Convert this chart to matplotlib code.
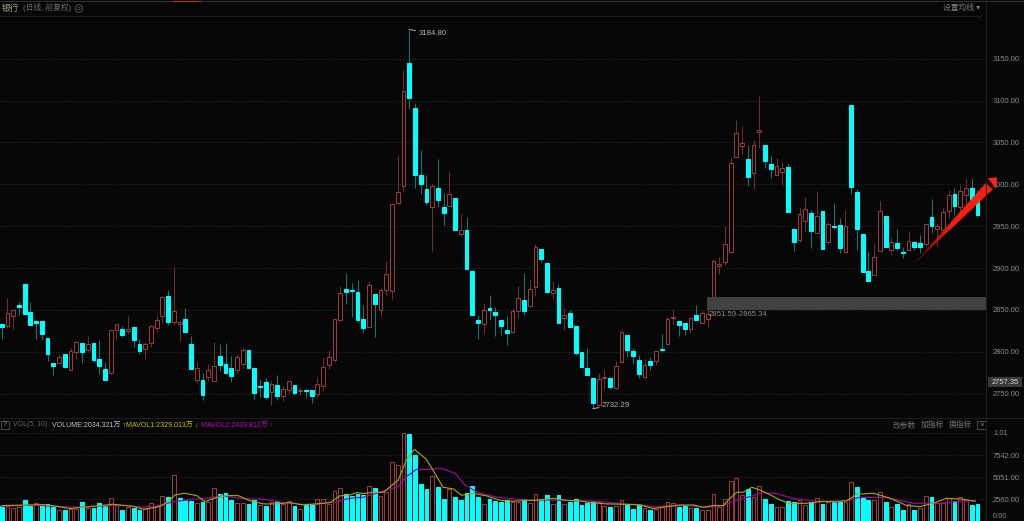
import matplotlib
matplotlib.use("Agg")
import matplotlib.pyplot as plt
from matplotlib.patches import Polygon, Rectangle, Ellipse

# ---------- data ----------
candle_up = ("crrccccccc" "rcrrcrcccr" "rcrccrrrrc" "rrccrcrrcc" "crrccccrcr"
             "rcrccrrrrr" "ccccrcrrrr" "rccccrccrc" "rcccrccccr" "rcrrccrcrc"
             "ccccrrcrrc" "ccrcrcrrcc" "rcrrrrrrrr" "crrccrrccr" "rcrcrccrcc"
             "ccrrcrccrc" "crcrrrcrrc" "c")
body_top = [
 2832.7,2846.6,2850.2,2855.8,2880.5,2847.1,2837.1,2837.1,2816.8,2787.0,
 2793.7,2796.9,2801.3,2811.6,2810.8,2809.7,2810.8,2791.7,2779.8,2826.4,
 2833.5,2826.8,2826.8,2829.2,2808.9,2809.7,2830.8,2838.3,2865.4,2866.2,
 2849.1,2835.9,2839.5,2808.9,2781.0,2765.9,2778.6,2783.4,2795.3,2785.0,
 2780.2,2793.3,2802.5,2801.7,2781.0,2758.7,2764.3,2761.9,2760.7,2755.5,
 2765.5,2760.3,2754.7,2754.7,2753.9,2761.1,2782.2,2793.7,2839.5,2869.9,
 2874.7,2873.5,2871.6,2839.3,2879.5,2868.8,2873.9,2892.6,2976.2,2990.8,
 3111.4,3144.5,3091.1,3011.1,2994.4,2997.6,2995.2,2972.5,2988.4,2983.7,
 2945.2,2945.6,2897.0,2837.7,2850.5,2852.0,2847.7,2838.1,2825.8,2848.9,
 2864.0,2861.6,2874.7,2925.7,2922.5,2906.6,2873.5,2876.0,2843.7,2846.5,
 2830.6,2799.5,2781.2,2768.5,2767.3,2769.7,2768.9,2782.8,2823.4,2820.2,
 2800.7,2790.4,2784.0,2788.8,2800.7,2803.5,2839.3,2841.7,2836.9,2834.1,
 2840.9,2843.6,2846.0,2845.2,2908.2,2905.4,2929.3,3025.6,3061.8,3049.9,
 3030.8,3047.1,3064.6,3047.1,3024.8,3022.4,3019.6,3021.2,2946.4,2965.1,
 2971.1,2965.9,2962.7,2968.3,2953.2,2950.8,2952.0,2950.8,3094.5,2991.4,
 2940.8,2897.0,2913.8,2967.9,2962.3,2931.7,2929.7,2919.3,2932.9,2931.3,
 2930.5,2953.2,2961.5,2950.8,2967.5,2987.0,2988.6,2992.2,2996.1,2995.7,
 2988.2]
body_bot = [
 2829.5,2830.8,2843.1,2853.8,2845.1,2831.9,2833.9,2821.2,2797.7,2783.0,
 2786.6,2781.4,2778.6,2799.7,2799.3,2802.1,2790.1,2783.0,2766.7,2774.2,
 2826.4,2819.6,2824.4,2814.0,2800.5,2803.7,2810.4,2828.4,2842.3,2835.1,
 2835.5,2833.5,2824.0,2779.4,2766.7,2748.4,2769.9,2765.1,2783.8,2774.2,
 2770.6,2778.2,2785.4,2780.6,2751.1,2757.5,2745.6,2751.9,2746.8,2746.8,
 2754.7,2751.1,2753.1,2752.7,2747.6,2749.5,2759.1,2784.2,2790.5,2838.5,
 2871.9,2873.1,2838.1,2828.6,2830.2,2857.6,2850.5,2874.3,2873.1,2977.7,
 2997.6,3103.5,3011.1,3000.0,2978.5,2972.5,2980.9,2965.4,2973.7,2945.6,
 2941.2,2898.6,2844.1,2834.9,2833.7,2850.5,2844.1,2830.9,2823.0,2824.2,
 2848.5,2849.3,2855.2,2877.9,2910.9,2872.0,2870.0,2834.9,2840.9,2830.2,
 2799.1,2781.6,2772.8,2739.4,2736.2,2768.9,2758.1,2757.3,2788.4,2801.9,
 2795.1,2773.6,2770.5,2784.4,2789.6,2802.3,2809.9,2840.1,2831.8,2826.9,
 2826.9,2837.7,2834.5,2838.9,2865.2,2903.0,2907.4,2919.7,3032.8,3046.3,
 3008.9,3014.1,3062.2,3028.4,3018.8,3011.7,3015.2,2967.1,2931.7,2933.7,
 2956.3,2944.8,2942.0,2923.3,2930.9,2949.6,2924.1,2919.3,2997.3,2947.2,
 2895.8,2885.1,2892.3,2920.9,2925.7,2921.7,2924.1,2918.1,2921.7,2925.3,
 2925.7,2928.9,2950.4,2947.2,2945.6,2968.7,2973.9,2973.1,2987.0,2981.4,
 2963.5]
highs = [
 2834.3,2864.6,2851.4,2859.0,2881.7,2859.8,2837.1,2837.1,2816.8,2787.0,
 2796.9,2797.7,2804.9,2813.2,2810.8,2819.2,2810.8,2814.4,2787.4,2826.4,
 2833.5,2830.3,2842.3,2829.2,2815.2,2811.6,2831.5,2843.5,2867.0,2873.3,
 2901.2,2837.5,2852.2,2818.4,2788.2,2774.2,2785.0,2811.2,2808.9,2810.0,
 2794.5,2797.7,2805.7,2801.7,2781.0,2767.1,2768.2,2765.1,2772.6,2758.7,
 2765.9,2760.3,2758.3,2755.9,2753.9,2769.5,2792.1,2801.7,2839.5,2879.1,
 2894.2,2881.9,2885.9,2855.6,2883.5,2868.8,2875.9,2908.2,2977.4,3035.4,
 3136.9,3184.8,3097.1,3040.6,3011.1,3001.6,3030.2,2989.6,3016.3,2983.7,
 2964.3,2960.7,2897.0,2844.5,2858.8,2868.0,2853.2,2838.1,2842.9,2852.0,
 2879.1,2893.8,2886.7,2928.5,2922.5,2906.6,2885.1,2881.5,2852.0,2849.7,
 2830.6,2799.5,2804.7,2768.5,2774.4,2779.2,2769.7,2788.8,2827.4,2820.2,
 2804.3,2796.7,2791.6,2794.3,2800.7,2821.4,2841.3,2851.3,2836.9,2834.1,
 2842.0,2855.6,2849.2,2859.6,2911.4,2913.4,2950.4,3031.6,3077.3,3070.2,
 3047.5,3053.5,3105.2,3047.1,3035.1,3032.0,3027.2,3024.8,2946.4,2972.7,
 2985.4,2969.1,2992.6,2968.3,2955.2,2977.8,2960.3,2969.1,3095.2,2994.9,
 2940.8,2920.9,2929.3,2979.8,2962.3,2936.8,2946.4,2925.3,2944.0,2932.5,
 2939.2,2954.4,2982.2,2954.0,2972.7,2993.0,2995.7,2999.3,3008.1,3008.1,
 2993.0]
lows = [
 2815.2,2828.4,2826.8,2843.9,2845.1,2831.9,2815.2,2814.0,2789.4,2771.8,
 2785.0,2780.6,2778.6,2790.9,2786.6,2800.9,2787.8,2773.0,2766.7,2773.8,
 2813.6,2818.0,2821.2,2805.3,2797.3,2791.3,2805.3,2823.2,2834.3,2832.3,
 2832.3,2812.8,2824.0,2779.4,2763.1,2742.0,2765.1,2765.1,2777.4,2773.0,
 2763.9,2773.0,2780.6,2780.2,2743.6,2745.6,2743.2,2736.4,2742.8,2741.2,
 2749.9,2747.9,2748.3,2745.2,2738.4,2745.6,2752.7,2779.4,2787.8,2838.5,
 2857.2,2841.7,2836.1,2822.6,2830.2,2817.4,2842.9,2867.2,2863.2,2976.1,
 2991.2,3089.9,2995.6,2988.8,2974.9,2920.9,2972.5,2951.5,2973.7,2945.6,
 2938.8,2898.6,2844.1,2815.4,2821.4,2838.1,2819.0,2820.2,2807.9,2824.2,
 2840.9,2844.5,2855.2,2866.8,2907.8,2870.4,2863.6,2834.9,2826.6,2830.2,
 2796.7,2781.6,2772.8,2732.29,2735.4,2756.1,2755.3,2757.3,2787.2,2794.3,
 2785.6,2769.3,2767.3,2778.4,2784.4,2800.3,2809.9,2833.3,2819.0,2820.2,
 2823.0,2837.7,2834.1,2830.1,2865.2,2892.7,2904.2,2918.9,3032.8,3035.9,
 2998.1,2994.6,3043.1,3020.0,3007.7,3010.5,2999.3,2967.1,2920.5,2931.7,
 2942.8,2924.1,2942.0,2923.3,2928.9,2946.8,2918.1,2919.3,2988.2,2921.3,
 2895.8,2884.3,2892.3,2920.9,2924.9,2915.3,2921.3,2912.2,2921.3,2921.3,
 2918.1,2925.3,2942.0,2926.1,2945.6,2959.9,2963.9,2963.9,2975.0,2981.0,
 2961.1]
volume = [
 1810,1810,1583,1734,2488,1810,2111,1923,1998,1734,
 1357,1320,1508,1433,2262,1621,1583,2111,1847,2677,
 1923,1320,1659,1546,1395,1470,2111,1847,2978,2828,
 5353,2677,2451,2413,2111,2224,2300,3808,3205,3318,
 2526,2111,2111,2074,2488,1923,1847,2224,2337,2074,
 2413,1847,1433,1923,1923,2639,2564,1998,3468,3883,
 3167,2941,3167,3054,4072,3883,2903,3393,6824,6484,
 10104,9953,7578,4298,3695,5165,3959,2639,3770,2828,
 2526,3242,4109,2828,1998,2601,2375,2224,2488,2224,
 2224,2601,2111,3129,2564,3016,1998,3016,2036,2224,
 2564,1885,2149,2413,2224,1772,1659,1772,2451,1885,
 1470,1960,1546,1357,1508,1734,2224,2111,1734,1960,
 1583,1621,1320,1395,3129,1697,2639,4599,4939,3054,
 3770,2790,4034,2639,1998,1697,1659,2413,2262,2526,
 1923,2300,2677,2074,2300,2262,2262,2300,4486,3921,
 2790,2526,2451,3355,2224,1697,1998,1320,1998,1395,
 1621,2903,2828,2149,2187,2677,2375,2828,2488,1960,
 2034]
# bars whose volume colour differs from the candle colour
vol_colour_differs = [3, 6, 31, 45, 80, 115, 148, 160]

ma5_idx = [0,2.6,5.5,7.3,9.6,11.9,14.2,17.1,19.4,22.9,24.7,27,28.1,29.3,30.2,31.9,34,35.4,37.4,39.2,
           41.2,43.2,45.6,47.9,50.2,52.5,54.8,57.2,58.9,60.7,61.8,63,64.7,66.5,67.7,69.1,70.5,71.9,74,75.8,
           76.9,78.7,80.1,82.2,84.5,86.8,89.1,91.5,93.8,96.1,98.4,100.7,102.5,105.4,108.3,111.2,113.5,115.9,118.2,120.5,
           122.2,124,125.7,126.9,128.1,129.2,130.7,132.1,133.9,135.6,137.3,140.3,142.6,145.5,147.2,149,151.9,154.8,157.7,160,
           162.3,164.6,167.5,169.6]
ma5_val = [1847,1885,1923,1960,1772,1508,1659,1847,1998,1772,1433,1659,1923,2488,3054,3242,2978,2300,2752,2978,
           2978,2413,2036,2036,2187,1923,2036,2187,2941,3054,3318,3205,3355,3355,3996,4750,7012,8219,7088,5127,
           3921,3732,3016,3242,2941,2451,2337,2413,2488,2677,2451,2375,2187,2036,1998,1923,1508,1734,1900,1923,
           1659,1847,1847,2677,3355,3355,3921,3619,3054,2488,2074,2111,2300,2337,2375,3129,3242,2677,1847,1734,
           2111,2677,2564,2329]
ma10_idx = [0,5.5,10.2,14.2,17.1,21.2,24.7,27,28.7,31,33.4,35.7,38.6,41.5,46.1,49.6,52,54.8,57.8,58.9,
            60.7,63,65.3,67.1,69.1,70.5,72.3,74.3,76.4,79,80.7,82.7,84.5,86.8,89.1,92,94.9,98.4,102.5,105.4,
            108.3,111.2,113.5,118.2,120.5,122.8,125.7,128.1,130.4,132.4,135,137.9,141.4,145.5,147.8,149.5,154.2,158.8,161.2,163.5,
            166.4,169.6]
ma10_val = [1734,1923,1734,1659,1810,1847,1659,1810,2111,2375,2564,2677,2941,2677,2526,2149,1998,1998,2224,2413,
            2677,2790,3242,3619,3996,5127,5957,5919,6107,5504,4185,3431,3054,2752,2601,2451,2488,2413,2375,2224,
            2036,1960,1697,1923,1772,1659,1847,2488,2865,3318,3205,2639,2375,2262,2488,2790,2752,2111,2111,2111,
            2300,2439]

price_ticks = [3150, 3100, 3050, 3000, 2950, 2900, 2850, 2800, 2750]
vol_ticks = [10100, 7542, 5051, 2560]
vol_tick_labels = ["1.01", "7542.00", "5051.00", "2560.00"]
zone_low, zone_high = 2851.59, 2865.34
last_price = 2757.35

# ---------- style ----------
W, H = 1024, 521
BG = "#070707"
RED_EDGE, RED_WICK = "#983b3b", "#742b2b"
CYAN, CYAN_WICK = "#00ffff", "#0c7878"
GRID, SEP = "#303030", "#1e1e1e"
BAR_W = 0.66
FONT = ["Liberation Sans", "Noto Sans CJK SC", "DejaVu Sans"]
plt.rcParams["font.family"] = FONT

fig = plt.figure(figsize=(W / 100, H / 100), dpi=100, facecolor=BG)

def rect(x0, y0, x1, y1):
    return [x0 / W, 1 - y1 / H, (x1 - x0) / W, (y1 - y0) / H]

def pt(x, y):
    return (x / W, 1 - y / H)

def label(x, y, s, color, size=5.4, ha="left", **kw):
    fig.text(x / W, 1 - y / H, s, color=color, fontsize=size, ha=ha, va="center", **kw)

n = len(volume)
xs = list(range(n))
xlim = (-0.291, 171.49)

# ---------- price pane ----------
ax = fig.add_axes(rect(0, 16, 986, 416), facecolor=BG)
ax.set_xlim(*xlim)
ax.set_ylim(2723.4, 3201)
for t in price_ticks:
    ax.axhline(t, color=GRID, lw=0.7, ls=(0, (1, 2)), zorder=1)

for i in xs:
    up = candle_up[i] == "r"
    ax.vlines(i, lows[i], highs[i], color=RED_WICK if up else CYAN_WICK, lw=0.75, zorder=2)
    h = body_top[i] - body_bot[i]
    if up:
        ax.bar(i, h, bottom=body_bot[i], width=BAR_W, facecolor=BG, edgecolor=RED_EDGE, lw=0.75, zorder=3)
    else:
        ax.bar(i, h, bottom=body_bot[i], width=BAR_W, facecolor=CYAN, edgecolor=CYAN, lw=0.75, zorder=3)

ax.add_patch(Rectangle((122.8, zone_low), xlim[1] - 122.8, zone_high - zone_low,
                       facecolor="#424242", edgecolor="#4c4c4c", lw=0.5, zorder=4))
ax.annotate(f"{zone_low}-{zone_high}", xy=(123.1, zone_low), xytext=(0, -4),
            textcoords="offset points", color="#8a8a8a", fontsize=5.6, va="center", zorder=5)

imax = highs.index(max(highs))
imin = lows.index(min(lows))
ax.annotate(f"{max(highs):.2f}", xy=(imax, max(highs)), xytext=(6.5, -2.5), textcoords="offset points",
            color="#b5b5b5", fontsize=5.6, va="center",
            arrowprops=dict(arrowstyle="-", color="#c8c8c8", lw=0.6, shrinkA=0, shrinkB=0))
ax.annotate(f"{min(lows):.2f}", xy=(imin, min(lows)), xytext=(6.5, 2.5), textcoords="offset points",
            color="#b5b5b5", fontsize=5.6, va="center",
            arrowprops=dict(arrowstyle="-", color="#c8c8c8", lw=0.6, shrinkA=0, shrinkB=0))

ax.yaxis.tick_right()
ax.set_yticks(price_ticks)
ax.set_yticklabels([f"{t:.2f}" for t in price_ticks], color="#8c8c8c", fontsize=5.4)
ax.tick_params(axis="y", length=0, pad=5)
ax.set_xticks([])
for s in ax.spines.values():
    s.set_visible(False)

# ---------- volume pane ----------
av = fig.add_axes(rect(0, 417, 986, 521), facecolor=BG)
av.set_xlim(*xlim)
av.set_ylim(102, 11880)
for t in vol_ticks:
    av.axhline(t, color=GRID, lw=0.7, ls=(0, (1, 2)), zorder=1)
for i in xs:
    up = candle_up[i] == "r"
    if i in vol_colour_differs:
        up = not up
    if up:
        av.bar(i, volume[i], width=BAR_W, facecolor=BG, edgecolor=RED_EDGE, lw=0.75, zorder=2)
    else:
        av.bar(i, volume[i], width=BAR_W, facecolor=CYAN, edgecolor=CYAN, lw=0.75, zorder=2)
av.plot(ma10_idx, ma10_val, color="#a600a6", lw=0.85, zorder=4)
av.plot(ma5_idx, ma5_val, color="#aaaa00", lw=0.8, zorder=5)
av.yaxis.tick_right()
av.set_yticks(vol_ticks)
av.set_yticklabels(vol_tick_labels, color="#8c8c8c", fontsize=5.4)
av.tick_params(axis="y", length=0, pad=5)
av.set_xticks([])
for s in av.spines.values():
    s.set_visible(False)

# ---------- frame lines ----------
fig.add_artist(plt.Line2D([986 / W, 986 / W], [0, 1], color=SEP, lw=0.8))
fig.add_artist(plt.Line2D([0, 981 / W], [1 - 15.5 / H] * 2, color=SEP, lw=0.8))
fig.add_artist(plt.Line2D([0, 1], [1 - 417.5 / H] * 2, color=SEP, lw=0.8))
fig.add_artist(plt.Line2D([0, 1], [1 - 0.5 / H] * 2, color="#303030", lw=0.8))
fig.add_artist(plt.Line2D([173 / W, 200 / W], [1 - 0.5 / H] * 2, color="#a83a10", lw=0.8))

# ---------- header and pane text ----------
label(2, 8, "银行", "#a9a98c", 6.2)
label(23, 8, "(日线, 前复权)", "#6a6a6a", 5.6)
fig.add_artist(Ellipse(pt(79, 8.5), 7.5 / W, 7.5 / H, fill=False, ec="#555555", lw=0.7, transform=fig.transFigure))
fig.add_artist(Ellipse(pt(79, 8.5), 2.5 / W, 2.5 / H, fill=False, ec="#555555", lw=0.5, transform=fig.transFigure))
label(980, 8, "设置均线 ▾", "#7c7c7c", 5.6, ha="right")

fig.add_artist(Rectangle(pt(1, 429), 8 / W, 8 / H, fill=False, ec="#555555", lw=0.6, transform=fig.transFigure))
label(5, 425, "?", "#888888", 5, ha="center")
label(13, 425, "VOL(5, 10)", "#666666", 5.0)
label(52, 425, "VOLUME:2034.321万 ↑", "#c4c4c4", 5.0)
label(126, 425, "MAVOL1:2329.013万 ↓", "#c4c400", 5.0)
label(201, 425, "MAVOL2:2439.812万 ↑", "#c000c0", 5.0)
label(893, 425, "改参数", "#6f6f6f", 5.6)
label(921, 425, "加指标", "#6f6f6f", 5.6)
label(949, 425, "换指标", "#6f6f6f", 5.6)
fig.add_artist(Rectangle(pt(977, 429), 9 / W, 8 / H, fill=False, ec="#555555", lw=0.6, transform=fig.transFigure))
label(981.5, 425, "×", "#777777", 6, ha="center")

# last price tag
fig.add_artist(Rectangle(pt(988, 387), 34 / W, 10 / H, fc="#3a3a3a", ec="none", transform=fig.transFigure))
label(992, 382, f"{last_price:.2f}", "#d8d8d8", 5.4)
label(993, 517, "0.00", "#8c8c8c", 5.4)

# ---------- red arrow annotation ----------
tail = (916.0, 261.7)
neck_u, neck_l = (986.0, 183.0), (992.5, 189.5)
steps = 40
for k in range(steps):
    a, b = k / steps, (k + 1) / steps
    u0 = (tail[0] + (neck_u[0] - tail[0]) * a, tail[1] + (neck_u[1] - tail[1]) * a)
    u1 = (tail[0] + (neck_u[0] - tail[0]) * b, tail[1] + (neck_u[1] - tail[1]) * b)
    l0 = (tail[0] + (neck_l[0] - tail[0]) * a, tail[1] + (neck_l[1] - tail[1]) * a)
    l1 = (tail[0] + (neck_l[0] - tail[0]) * b, tail[1] + (neck_l[1] - tail[1]) * b)
    m = min(1.0, 0.35 + a * 1.3)
    col = (0.95 * m + 0.05, 0.12 * m, 0.06 * m)
    fig.add_artist(Polygon([pt(*u0), pt(*u1), pt(*l1), pt(*l0)], closed=True, fc=col, ec=col, lw=0.2,
                           transform=fig.transFigure))
fig.add_artist(Polygon([pt(997, 177.5), pt(988, 178.3), pt(996, 188.5)], closed=True, fc="#ff2410", ec="#ff2410",
                       lw=0.2, transform=fig.transFigure))

fig.savefig("out.png", dpi=100, facecolor=BG)
